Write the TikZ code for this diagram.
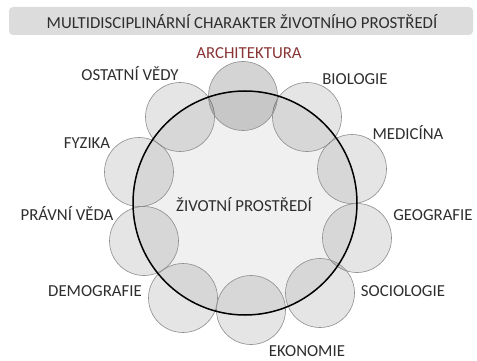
\documentclass[tikz,border=0pt]{standalone}
\usepackage{fontspec}
\setmainfont{Carlito}
\usetikzlibrary{positioning}
\definecolor{labelgray}{HTML}{2E2E2E}
\definecolor{archred}{HTML}{8A3535}
\definecolor{bargray}{HTML}{DCDCDC}

\tikzset{
  field/.style={circle,draw=black!45,line width=0.6pt,fill=black,fill opacity=0.10,
                text opacity=1,minimum size=69pt,inner sep=0pt},
  lbl/.style={text=labelgray,font=\fontsize{16.8}{18}\selectfont,
              inner sep=0pt,text height=11pt,text depth=0pt},
  titlebar/.style={rounded corners=4pt,fill=bargray,minimum width=464pt,
                   minimum height=28pt,inner sep=0pt},
}

\begin{document}
\begin{tikzpicture}[x=1pt,y=-1pt]
        \useasboundingbox (0,0) rectangle (477,361);

        % --- Title ---
        \node[titlebar] (bar) at (241,21) {};
        \node[lbl] (title) at (242,23) {MULTIDISCIPLINÁRNÍ CHARAKTER ŽIVOTNÍHO PROSTŘEDÍ};

        % --- Environment ---
        \coordinate (env) at (245,203);
        \fill[black!6] (env) circle (112);

        % Disciplines around it
        \foreach \name/\x/\y in {bio/307/117, med/352/169, geo/357/238, soc/320/293,
                                 eko/251/310, dem/183/298, pra/144/241, fyz/139/172,
                                 ost/180/117}
            \node[field] (\name) at (\x,\y) {};
        \node[field,fill opacity=0.17] (arch) at (243,96) {};

        \draw[line width=1.5pt] (env) circle (112);

        % Labels
        \node[lbl] (envlabel) at (244,206) {ŽIVOTNÍ PROSTŘEDÍ};
        \node[lbl,text=archred] (archlabel) at (249,53) {ARCHITEKTURA};
        \node[lbl] (biolabel) at (355,79) {BIOLOGIE};
        \node[lbl] (medlabel) at (408,134) {MEDICÍNA};
        \node[lbl] (geolabel) at (433,215) {GEOGRAFIE};
        \node[lbl] (soclabel) at (403,291) {SOCIOLOGIE};
        \node[lbl] (ekolabel) at (307,351) {EKONOMIE};
        \node[lbl] (demlabel) at (95,291) {DEMOGRAFIE};
        \node[lbl] (pralabel) at (67,215) {PRÁVNÍ VĚDA};
        \node[lbl] (fyzlabel) at (87,143) {FYZIKA};
        \node[lbl] (ostlabel) at (130,75) {OSTATNÍ VĚDY};

\end{tikzpicture}
\end{document}
